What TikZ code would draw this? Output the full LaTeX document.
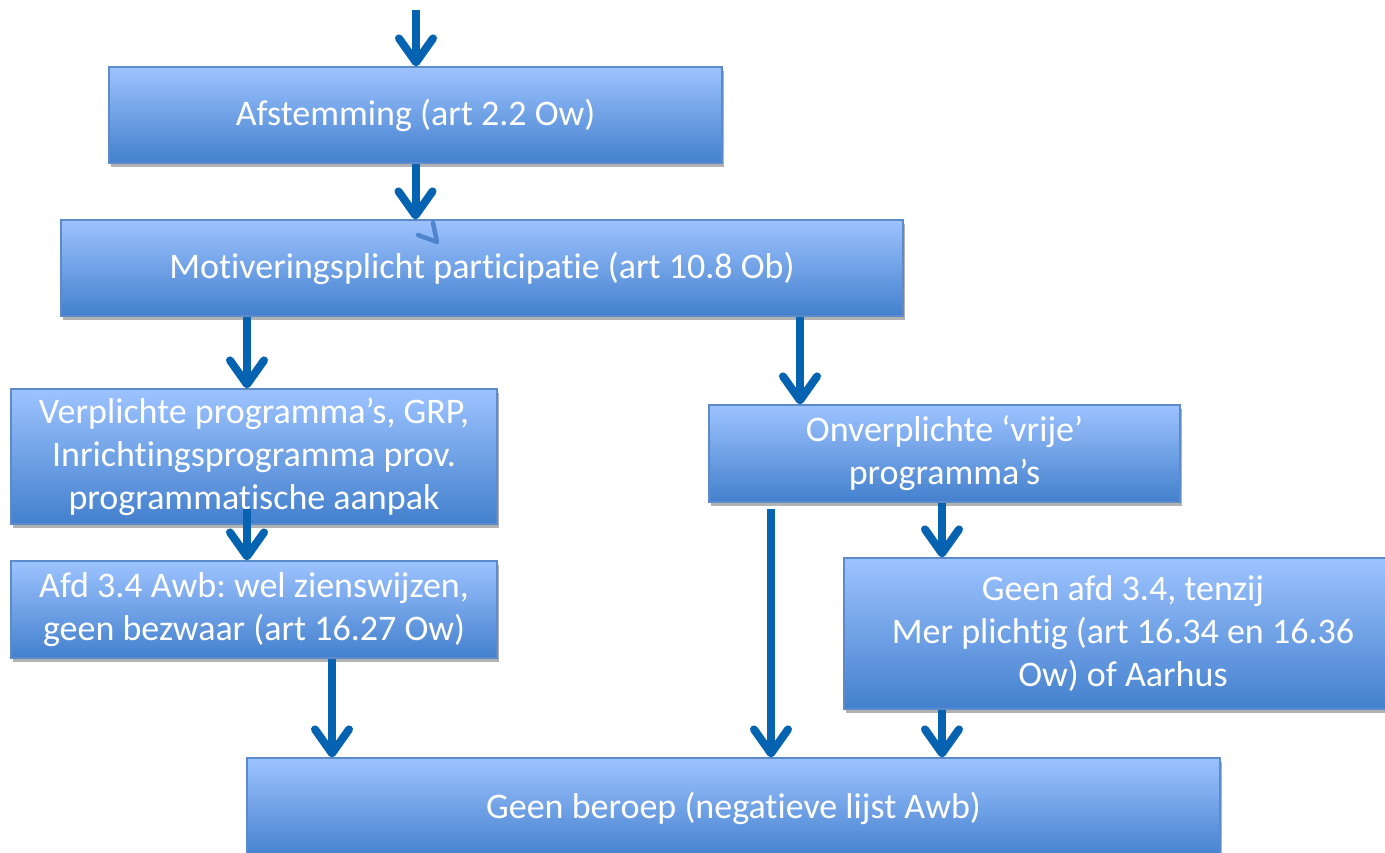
\documentclass[tikz,border=0pt]{standalone}
\usepackage{fontspec}
\setmainfont{Carlito}[Ligatures=NoCommon]
\usetikzlibrary{arrows.meta,shadows}
\definecolor{boxtop}{HTML}{9DC3FF}
\definecolor{boxbot}{HTML}{4380CD}
\definecolor{boxline}{HTML}{5B8BCB}
\definecolor{arr}{HTML}{0563B1}
\definecolor{stray}{HTML}{3F79C2}
\frenchspacing
\begin{document}
\begin{tikzpicture}[x=1pt,y=-1pt,
  box/.style={draw=boxline, line width=1.2pt, top color=boxtop, bottom color=boxbot,
    text=white, font=\fontsize{36}{43}\selectfont, align=center, inner sep=0pt,
    drop shadow={shadow xshift=2pt, shadow yshift=-4pt, opacity=0.3, fill=black}},
  flow/.style={draw=arr, line width=8pt, -{Straight Barb[length=24pt,width=34pt,round]}}]
\useasboundingbox (0,0) rectangle (1385,853);
\clip (0,0) rectangle (1385,853);
\node[box, minimum width=613pt, minimum height=96pt] (A) at (415.5,115) {Afstemming (art 2.2 Ow)};
\node[box, minimum width=842pt, minimum height=96pt] (B) at (482,268) {Motiveringsplicht participatie (art 10.8 Ob)};
\node[box, minimum width=486pt, minimum height=135pt] (C) at (254,456.5) {Verplichte programma’s, GRP,\\Inrichtingsprogramma prov.\\programmatische aanpak};
\node[box, minimum width=486pt, minimum height=97pt] (D) at (254,609.5) {Afd 3.4 Awb: wel zienswijzen,\\geen bezwaar (art 16.27 Ow)};
\node[box, minimum width=471pt, minimum height=97pt] (E) at (944.5,453.5) {Onverplichte ‘vrije’\\programma’s};
\node[box, minimum width=558pt, minimum height=151pt] (F) at (1123,633.5) {Geen afd 3.4, tenzij\\Mer plichtig (art 16.34 en 16.36\\Ow) of Aarhus};
\node[box, minimum width=973pt, minimum height=100pt] (G) at (733.5,808) {Geen beroep (negatieve lijst Awb)};
\coordinate (top) at (416,10);
\draw[flow] (top) -- (top |- A.north);
\draw[flow] (A.south) -- (A.south |- B.north);
\draw[draw=stray, opacity=0.8, line width=4.5pt, line cap=round, line join=round] (418,235) -- (437,242) -- (433,223);
\draw[flow] ([xshift=-235pt]B.south) coordinate (b1) -- (b1 |- C.north);
\draw[flow] ([xshift=318pt]B.south) coordinate (b2) -- (b2 |- E.north);
\draw[flow] ([xshift=-7pt,yshift=16pt]C.south) coordinate (c1) -- (c1 |- D.north);
\draw[flow] ([xshift=78pt]D.south) coordinate (d1) -- (d1 |- G.north);
\draw[flow] ([xshift=-173.5pt,yshift=-6pt]E.south) coordinate (e1) -- (e1 |- G.north);
\draw[flow] ([xshift=-2.5pt]E.south) coordinate (e2) -- (e2 |- F.north);
\draw[flow] ([xshift=-181pt]F.south) coordinate (f1) -- (f1 |- G.north);
\end{tikzpicture}
\end{document}
